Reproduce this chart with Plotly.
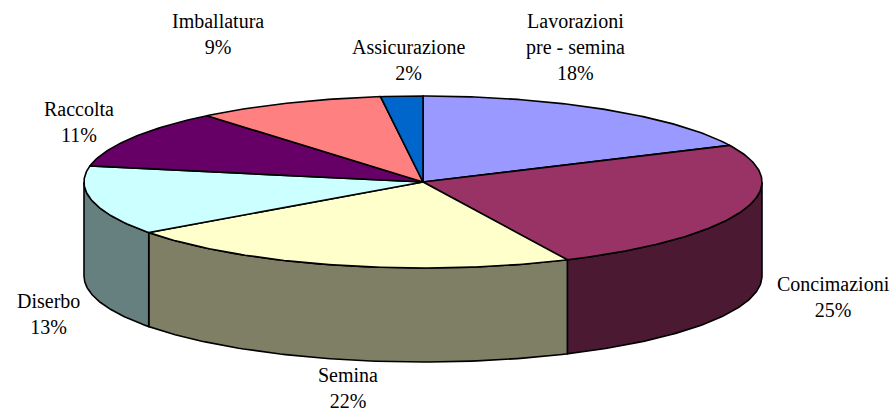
import numpy as np
import plotly.graph_objects as go

# Cost breakdown (%)
categories = ["Lavorazioni<br>pre - semina", "Concimazioni", "Semina", "Diserbo",
              "Raccolta", "Imballatura", "Assicurazione"]
shares = [18, 25, 22, 13, 11, 9, 2]
top_colors = ["#9999FF", "#993366", "#FFFFCC", "#CCFFFF", "#660066", "#FF8080", "#0066CC"]

# Pie geometry in page pixels (tilted disc drawn as an ellipse with a side wall)
CX, CY = 423.0, 182.0
RX, RY = 339.0, 86.0
DEPTH = 94.0

# Label anchors (x, vertical centre of first line)
label_pos = [(575, 22), (833, 285), (348, 376), (48, 302), (79, 110), (218, 22), (408, 48)]

FONT = "Liberation Serif"


def shade(hex_color, k=0.5):
    h = hex_color.lstrip("#")
    r, g, b = (int(h[i:i + 2], 16) for i in (0, 2, 4))
    return "#%02X%02X%02X" % (int(r * k), int(g * k), int(b * k))


def ell(t_deg, dy=0.0):
    t = np.radians(t_deg)
    return CX + RX * np.cos(t), CY - RY * np.sin(t) + dy


total = float(sum(shares))
bounds = [90.0]
for v in shares:
    bounds.append(bounds[-1] - 360.0 * v / total)

fig = go.Figure()

# side walls (only the front half, angles between -180 and 0)
for i, col in enumerate(top_colors):
    hi, lo = bounds[i], bounds[i + 1]
    a, b = min(hi, 0.0), max(lo, -180.0)
    if a <= b:
        continue
    ts = np.linspace(a, b, 80)
    xt, yt = ell(ts)
    xb, yb = ell(ts[::-1], DEPTH)
    fig.add_trace(go.Scatter(
        x=np.concatenate([xt, xb, xt[:1]]), y=np.concatenate([yt, yb, yt[:1]]),
        mode="lines", fill="toself", fillcolor=shade(col),
        line=dict(color="black", width=1.6), hoverinfo="skip", showlegend=False))

# top faces
for i, col in enumerate(top_colors):
    hi, lo = bounds[i], bounds[i + 1]
    n = max(8, int(abs(hi - lo) * 1.5))
    ts = np.linspace(hi, lo, n)
    xa, ya = ell(ts)
    fig.add_trace(go.Scatter(
        x=np.concatenate([[CX], xa, [CX]]), y=np.concatenate([[CY], ya, [CY]]),
        mode="lines", fill="toself", fillcolor=col,
        line=dict(color="black", width=1.6), hoverinfo="skip", showlegend=False))

for name, v, (lx, ly) in zip(categories, shares, label_pos):
    fig.add_annotation(x=lx, y=ly - 14, xref="x", yref="y", text=f"{name}<br>{v}%",
                       showarrow=False, xanchor="center", yanchor="top", align="center",
                       font=dict(family=FONT, size=20, color="black"))

fig.update_layout(
    width=892, height=414, margin=dict(l=0, r=0, t=0, b=0),
    paper_bgcolor="white", plot_bgcolor="white",
    font=dict(family=FONT),
    xaxis=dict(range=[0, 892], visible=False, fixedrange=True),
    yaxis=dict(range=[414, 0], visible=False, fixedrange=True),
)

fig.write_html("out.html")
